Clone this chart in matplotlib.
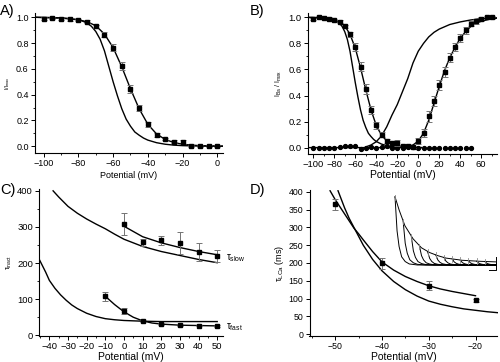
import numpy as np
import matplotlib
matplotlib.use('Agg')
import matplotlib.pyplot as plt
from matplotlib.ticker import MultipleLocator

plt.rcParams['font.family'] = ['Liberation Sans', 'DejaVu Sans']
plt.rcParams['mathtext.fontset'] = 'custom'
plt.rcParams['mathtext.rm'] = 'Liberation Sans'
plt.rcParams['mathtext.it'] = 'Liberation Sans'

# ---- panel A ----
a_v = [-100, -95, -90, -85, -80, -75, -70, -65, -60, -55, -50, -45, -40, -35, -30, -25, -20, -15, -10, -5, 0]
a_y = [0.99, 0.995, 0.99, 0.985, 0.98, 0.965, 0.93, 0.865, 0.765, 0.62, 0.445, 0.295, 0.17, 0.09, 0.055, 0.035, 0.03, 0.0, 0.0, 0.0, 0.0]
a_err = [0.01, 0.008, 0.008, 0.01, 0.01, 0.012, 0.012, 0.02, 0.025, 0.03, 0.03, 0.025, 0.02, 0.015, 0.01, 0.01, 0.015, 0.008, 0.008, 0.008, 0.01]
fit_v = [-105, -100, -95, -90, -85, -80, -75, -70, -65, -60, -55, -50, -45, -40, -35, -30, -25, -20, -15, -10, -5, 0, 3]
fit_y = [1.0, 0.998, 0.996, 0.993, 0.988, 0.98, 0.965, 0.935, 0.87, 0.765, 0.615, 0.445, 0.29, 0.17, 0.095, 0.052, 0.028, 0.015, 0.008, 0.004, 0.002, 0.001, 0.0]
model_v = [-105, -100, -95, -90, -85, -80, -77.5, -75, -72.5, -70, -67.5, -65, -62.5, -60, -57.5, -55, -52.5, -50, -47.5, -45, -42.5, -40, -35, -30, -25, -20, -10, 0, 3]
model_y = [1.0, 0.999, 0.998, 0.995, 0.99, 0.98, 0.97, 0.955, 0.93, 0.89, 0.83, 0.74, 0.62, 0.5, 0.39, 0.29, 0.21, 0.155, 0.11, 0.085, 0.063, 0.047, 0.027, 0.015, 0.008, 0.004, 0.001, 0.0, 0.0]

# ---- panel B ----
b_in_v = [-100, -95, -90, -85, -80, -75, -70, -65, -60, -55, -50, -45, -40, -35, -30, -25, -20, -15, -10, -5]
b_in_y = [0.99, 1.0, 0.995, 0.99, 0.98, 0.965, 0.93, 0.87, 0.77, 0.62, 0.45, 0.29, 0.17, 0.10, 0.05, 0.035, 0.035, 0.01, 0.01, 0.005]
b_in_err = [0.008, 0.008, 0.008, 0.01, 0.01, 0.012, 0.015, 0.02, 0.03, 0.035, 0.035, 0.03, 0.025, 0.02, 0.015, 0.015, 0.02, 0.01, 0.01, 0.01]
b_act_v = [0, 5, 10, 15, 20, 25, 30, 35, 40, 45, 50, 55, 60, 65, 70]
b_act_y = [0.05, 0.11, 0.24, 0.36, 0.48, 0.58, 0.69, 0.77, 0.84, 0.90, 0.95, 0.97, 0.99, 1.0, 1.0]
b_act_err = [0.02, 0.03, 0.04, 0.04, 0.04, 0.04, 0.035, 0.03, 0.03, 0.025, 0.02, 0.02, 0.015, 0.01, 0.01]
b_base_v = list(range(-100, 55, 5))
b_base_y = [0.0, 0.0, 0.0, 0.0, 0.0, 0.005, 0.01, 0.015, 0.01, -0.01, 0.0, 0.005, 0.0, 0.005, 0.01, 0.0,
            -0.005, 0.0, 0.005, 0.005, 0.0, 0.0, 0.0, 0.0, 0.0, 0.0, 0.0, 0.0, 0.0, 0.0, 0.0]
b_actfit_v = [-105, -20, -15, -10, -5, 0, 5, 10, 15, 20, 25, 30, 35, 40, 45, 50, 55, 60, 65, 70, 75]
b_actfit_y = [0.0, 0.0, 0.003, 0.008, 0.02, 0.05, 0.11, 0.21, 0.34, 0.47, 0.59, 0.69, 0.77, 0.84, 0.89, 0.93, 0.955, 0.97, 0.98, 0.99, 0.995]
b_wide_v = [-50, -45, -40, -35, -30, -25, -20, -15, -10, -5, 0, 5, 10, 15, 20, 30, 40, 50, 60, 75]
b_wide_y = [0.005, 0.02, 0.045, 0.09, 0.16, 0.25, 0.33, 0.43, 0.53, 0.65, 0.74, 0.80, 0.85, 0.885, 0.91, 0.945, 0.965, 0.98, 0.99, 0.995]

# ---- panel C ----
c_slow_v = [0, 10, 20, 30, 40, 50]
c_slow_y = [309, 258, 263, 256, 231, 219]
c_slow_err = [31, 10, 13, 30, 25, 17]
c_fast_v = [-10, 0, 10, 20, 30, 40, 50]
c_fast_y = [108, 67, 39, 31, 28, 27, 26]
c_fast_err = [12, 8, 3, 3, 2, 2, 2]
c_slowfit_v = [0, 10, 20, 30, 40, 50]
c_slowfit_y = [302, 273, 256, 243, 232, 223]
c_slowmod_v = [-38, -35, -30, -25, -20, -15, -10, -5, 0, 10, 20, 30, 40, 50]
c_slowmod_y = [400, 383, 357, 338, 322, 308, 295, 280, 266, 246, 232, 221, 210, 201]
c_fastfit_v = [-10, -5, 0, 5, 10, 15, 20, 30, 40, 50]
c_fastfit_y = [108, 85, 65, 50, 40, 34, 31, 28, 27, 26]
c_fastmod_v = [-45.4, -42, -40, -37, -34, -31, -28, -25, -20, -15, -10, -5, 0, 10, 20, 50]
c_fastmod_y = [210, 175, 152, 130, 112, 97, 84, 74, 61, 52, 46, 43, 41, 39, 38, 38]

# ---- panel D ----
d_v = [-50, -40, -30, -20]
d_y = [365, 199, 136, 95]
d_err = [16, 15, 12, 5]
d_fit_v = [-51.1, -50, -48, -46, -45, -44, -42, -40, -37.5, -35, -32.5, -30, -27.5, -25, -22.5, -20]
d_fit_y = [403, 378, 338, 298, 282, 265, 232, 203, 180, 162, 148, 136, 127, 120, 114, 108]
d_mod_v = [-49.4, -48, -47, -46, -45, -44, -42, -40, -37.5, -35, -32.5, -30, -27.5, -25, -22.5, -20, -17.5, -15]
d_mod_y = [403, 355, 325, 300, 275, 250, 210, 178, 148, 125, 107, 93, 84, 77, 71, 67, 63, 60]

# inset traces (normalised units)
env_t = [1, 5, 10.7, 18.7, 26.9, 35, 43, 51, 67, 83.5, 99.7]
env_y = [0.99, 0.8, 0.57, 0.38, 0.25, 0.18, 0.135, 0.10, 0.068, 0.054, 0.045]
branch_t = [1, 9, 17, 25, 33, 41, 49, 57, 65, 73, 81, 89]
branch_y = [0.99, 0.63, 0.41, 0.27, 0.19, 0.145, 0.11, 0.09, 0.07, 0.06, 0.055, 0.05]
decay_dt = [0, 2, 4, 6.5, 10, 14, 22]
decay_rel = [1, 0.5, 0.27, 0.12, 0.05, 0.015, 0]

fig = plt.figure(figsize=(5, 3.62), dpi=100)


def style(ax, fs=6.5):
    for s in ['top', 'right']:
        ax.spines[s].set_visible(False)
    for s in ['left', 'bottom']:
        ax.spines[s].set_linewidth(0.8)
    ax.tick_params(which='major', direction='out', length=3, width=0.7, labelsize=fs, pad=1.5)
    ax.tick_params(which='minor', direction='out', length=1.6, width=0.6)


eb = dict(fmt='s', ms=3.2, color='black', ecolor='0.45', elinewidth=0.7, capsize=2.5, capthick=0.7, zorder=3)

# A
axA = fig.add_axes([0.070, 0.577, 0.376, 0.387])
axA.plot(fit_v, fit_y, color='black', lw=1.0)
axA.plot(model_v, model_y, color='black', lw=1.0)
axA.errorbar(a_v, a_y, yerr=a_err, **eb)
axA.set_xlim(-105, 3.3)
axA.set_ylim(-0.054, 1.033)
axA.xaxis.set_major_locator(MultipleLocator(20))
axA.xaxis.set_minor_locator(MultipleLocator(10))
axA.yaxis.set_major_locator(MultipleLocator(0.2))
axA.yaxis.set_minor_locator(MultipleLocator(0.1))
axA.yaxis.set_major_formatter(plt.FormatStrFormatter('%.1f'))
style(axA)
axA.set_xlabel('Potential (mV)', fontsize=6.5, labelpad=2)
axA.set_ylabel('I/I$_{max}$', fontsize=4, labelpad=3)
fig.text(0.0, 0.99, 'A)', fontsize=10.5, va='top', ha='left')

# B
axB = fig.add_axes([0.616, 0.575, 0.378, 0.390])
axB.plot(fit_v, fit_y, color='black', lw=1.0)
axB.plot(model_v, model_y, color='black', lw=1.0)
axB.plot(b_wide_v, b_wide_y, color='black', lw=1.0)
axB.plot(b_actfit_v, b_actfit_y, color='black', lw=1.0)
axB.plot(b_base_v, b_base_y, 'o', ms=2.8, color='black', zorder=3)
axB.errorbar(b_in_v, b_in_y, yerr=b_in_err, **eb)
axB.errorbar(b_act_v, b_act_y, yerr=b_act_err, **eb)
axB.set_xlim(-105, 75)
axB.set_ylim(-0.048, 1.036)
axB.xaxis.set_major_locator(MultipleLocator(20))
axB.xaxis.set_minor_locator(MultipleLocator(10))
axB.yaxis.set_major_locator(MultipleLocator(0.2))
axB.yaxis.set_minor_locator(MultipleLocator(0.1))
axB.yaxis.set_major_formatter(plt.FormatStrFormatter('%.1f'))
style(axB, fs=6.8)
axB.set_xlabel('Potential (mV)', fontsize=7.5, labelpad=1)
axB.set_ylabel('I$_{Ba}$ / I$_{max}$', fontsize=5, labelpad=3)
fig.text(0.5, 0.99, 'B)', fontsize=10.5, va='top', ha='left')

# C
axC = fig.add_axes([0.0786, 0.0718, 0.367, 0.406])
axC.plot(c_slowmod_v, c_slowmod_y, color='black', lw=1.0)
axC.plot(c_slowfit_v, c_slowfit_y, color='black', lw=1.0)
axC.plot(c_fastmod_v, c_fastmod_y, color='black', lw=1.0)
axC.plot(c_fastfit_v, c_fastfit_y, color='black', lw=1.0)
axC.errorbar(c_slow_v, c_slow_y, yerr=c_slow_err, **eb)
axC.errorbar(c_fast_v, c_fast_y, yerr=c_fast_err, **eb)
axC.set_xlim(-45.4, 53)
axC.set_ylim(-2, 405)
axC.xaxis.set_major_locator(MultipleLocator(10))
axC.xaxis.set_minor_locator(MultipleLocator(5))
axC.yaxis.set_major_locator(MultipleLocator(100))
axC.yaxis.set_minor_locator(MultipleLocator(50))
style(axC, fs=6.8)
axC.set_xlabel('Potential (mV)', fontsize=7.5, labelpad=0.5)
axC.set_ylabel('τ$_{inact}$', fontsize=5, labelpad=2)
axC.text(54.5, 214, 'τ$_{slow}$', fontsize=7, va='center', ha='left', clip_on=False)
axC.text(54.5, 24, 'τ$_{fast}$', fontsize=7, va='center', ha='left', clip_on=False)
fig.text(0.0, 0.495, 'C)', fontsize=10.5, va='top', ha='left')

# D
axD = fig.add_axes([0.619, 0.073, 0.376, 0.402])
axD.plot(d_fit_v, d_fit_y, color='black', lw=1.0)
axD.plot(d_mod_v, d_mod_y, color='black', lw=1.0)
axD.errorbar(d_v, d_y, yerr=d_err, **eb)
axD.set_xlim(-55.5, -15.3)
axD.set_ylim(-4, 405)
axD.xaxis.set_major_locator(MultipleLocator(10))
axD.xaxis.set_minor_locator(MultipleLocator(5))
axD.yaxis.set_major_locator(MultipleLocator(50))
style(axD, fs=6.3)
axD.set_xlabel('Potential (mV)', fontsize=7.5, labelpad=0.5)
axD.set_ylabel('τ$_{LCa}$ (ms)', fontsize=6.5, labelpad=2)
fig.text(0.5, 0.495, 'D)', fontsize=10.5, va='top', ha='left')

# D inset: current traces
axI = fig.add_axes([0.788, 0.249, 0.206, 0.213])
axI.axis('off')
axI.set_xlim(0, 101)
axI.set_ylim(-0.1, 1.02)
axI.plot(env_t, env_y, color='black', lw=0.7)
for t0, y0 in zip(branch_t, branch_y):
    tt = [t0 + d for d in decay_dt] + [100]
    yy = [y0 * r for r in decay_rel] + [0]
    axI.plot(tt, yy, color='black', lw=0.7)
    axI.plot([t0, t0], [y0 - 0.04, y0 + 0.04], color='0.55', lw=0.6)
axI.plot([93, 100, 100], [-0.07, -0.07, 0.12], color='black', lw=0.7)

fig.savefig('out.png', dpi=100)
